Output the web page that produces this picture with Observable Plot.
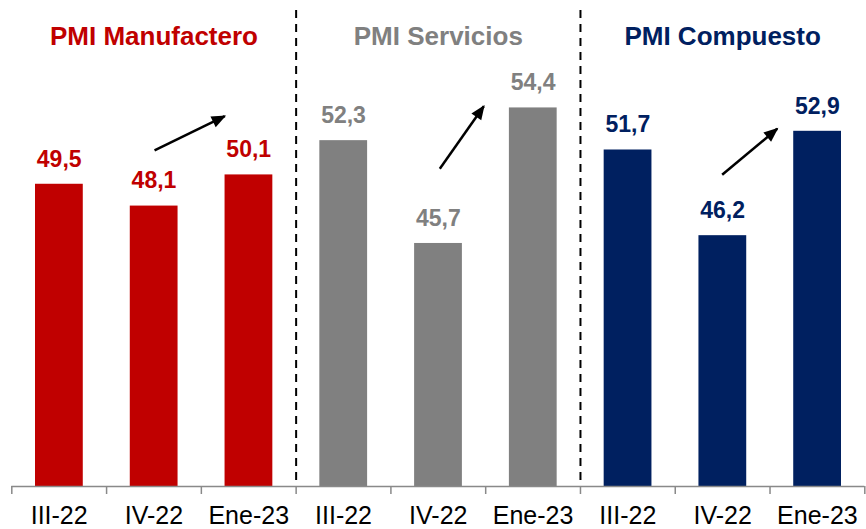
<!DOCTYPE html>
<html><head><meta charset="utf-8">
<script src="https://cdn.jsdelivr.net/npm/d3@7"></script>
<script src="https://cdn.jsdelivr.net/npm/@observablehq/plot@0.6"></script>
<style>body{margin:0;background:#fff} svg{display:block}</style>
</head><body><div id="chart"></div>
<script>
const groups = ["PMI Manufactero", "PMI Servicios", "PMI Compuesto"];
const groupColors = ["#C00000", "#808080", "#002060"];
const periods = ["III-22", "IV-22", "Ene-23"];
const manufacturing = [49.5, 48.1, 50.1];
const services = [52.3, 45.7, 54.4];
const composite = [51.7, 46.2, 52.9];
const yMin = 30.1, yMax = 56, separatorTop = 60.65;
// trend arrows (annotation positions, in slot / value units)
const arrowX1 = [1.506, 4.516, 7.495];
const arrowY1 = [51.67, 50.49, 50.11];
const arrowX2 = [2.247, 4.98, 8.076];
const arrowY2 = [53.87, 54.51, 53.06];

const series = [manufacturing, services, composite];
const rows = [];
series.forEach((vals, g) => vals.forEach((v, p) => rows.push({idx: g * 3 + p, group: groups[g], period: periods[p], value: v, color: groupColors[g]})));
const arrows = arrowX1.map((x, i) => ({x1: x, y1: arrowY1[i], x2: arrowX2[i], y2: arrowY2[i]}));
const titles = groups.map((g, i) => ({name: g, pos: i * 3 + 1.5, color: groupColors[i]}));
const fmt = v => v.toFixed(1).replace(".", ",");

function filledArrow(color, context) {
  const ns = "http://www.w3.org/2000/svg";
  const doc = (context && context.document) || document;
  const m = doc.createElementNS(ns, "marker");
  m.setAttribute("viewBox", "-15 -8 17 16");
  m.setAttribute("markerWidth", 17);
  m.setAttribute("markerHeight", 16);
  m.setAttribute("markerUnits", "userSpaceOnUse");
  m.setAttribute("orient", "auto");
  m.setAttribute("refX", 0);
  m.setAttribute("refY", 0);
  const p = doc.createElementNS(ns, "path");
  p.setAttribute("d", "M1.5,0L-13,-6L-13,6Z");
  p.setAttribute("fill", color);
  p.setAttribute("stroke", "none");
  m.appendChild(p);
  return m;
}

const chart = Plot.plot({
  width: 866, height: 529,
  marginLeft: 11.3, marginRight: 1.7, marginTop: 82.5, marginBottom: 43,
  style: {fontFamily: "'Liberation Sans', Arial, sans-serif", background: "#fff"},
  x: {domain: [0, 9], label: null},
  y: {domain: [yMin, yMax], axis: null, label: null},
  color: {type: "identity"},
  marks: [
    Plot.rectY(rows, {x1: d => d.idx, x2: d => d.idx + 1, y1: yMin, y2: "value", fill: "color", insetLeft: 23.7, insetRight: 23.3}),
    Plot.ruleX([3, 6], {x: d => d, y1: separatorTop, y2: yMin, stroke: "#000", strokeWidth: 2, strokeDasharray: "8,6"}),
    Plot.ruleY([yMin], {stroke: "#898989", strokeWidth: 1.5}),
    Plot.axisX({ticks: d3.range(10), tickSize: 8, stroke: "#898989", strokeWidth: 1.5, tickFormat: () => ""}),
    Plot.axisX({ticks: d3.range(9).map(i => i + 0.5), tickSize: 0, tickPadding: 19.5, fontSize: 25, fill: "#000", tickFormat: d => periods[Math.floor(d) % 3]}),
    Plot.text(rows, {x: d => d.idx + 0.5, y: "value", text: d => fmt(d.value), fill: "color", fontSize: 23, fontWeight: "bold", dy: -25, lineAnchor: "middle"}),
    Plot.text(titles, {x: "pos", frameAnchor: "top", dy: -46, text: "name", fill: "color", fontSize: 26, fontWeight: "bold", lineAnchor: "middle"}),
    Plot.link(arrows, {x1: "x1", y1: "y1", x2: "x2", y2: "y2", stroke: "#000", strokeWidth: 2.5, markerEnd: filledArrow})
  ]
});
document.getElementById("chart").appendChild(chart);
</script>
</body></html>
